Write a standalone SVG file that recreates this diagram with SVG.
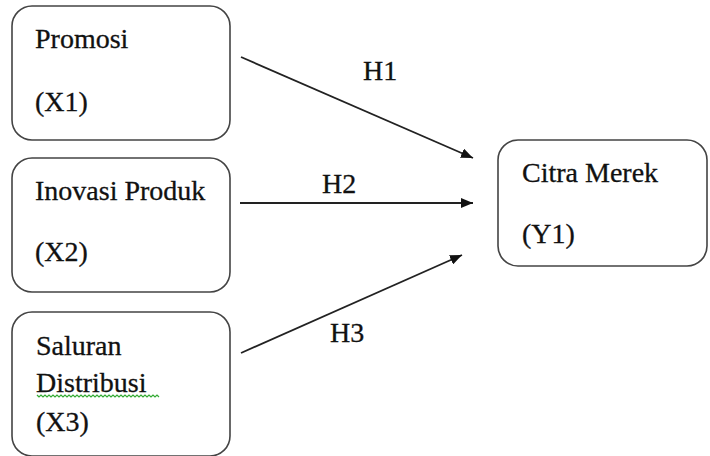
<svg xmlns="http://www.w3.org/2000/svg" width="710" height="456" viewBox="0 0 710 456">
<style>
.box{fill:#fff;stroke:#444;stroke-width:1.6}
.t{font-family:"Liberation Serif","Times New Roman",serif;font-size:28px;fill:#111;stroke:#111;stroke-width:0.3}
.c{stroke:#222;stroke-width:1.8;fill:none}
</style>
<defs>
<marker id="ah" viewBox="0 0 12 10" refX="12" refY="5" markerWidth="12" markerHeight="10" markerUnits="userSpaceOnUse" orient="auto">
<path d="M0,0 L12,5 L0,10 Z" fill="#111"/>
</marker>
</defs>
<rect width="710" height="456" fill="#fff"/>
<g id="x1">
<rect class="box" x="12" y="6" width="218" height="134" rx="20"/>
<text class="t" x="35" y="48">Promosi</text>
<text class="t" x="35" y="111">(X1)</text>
</g>
<g id="x2">
<rect class="box" x="12" y="158" width="218" height="134" rx="20"/>
<text class="t" x="35" y="200">Inovasi Produk</text>
<text class="t" x="35" y="261">(X2)</text>
</g>
<g id="x3">
<rect class="box" x="12" y="312" width="218" height="144" rx="20"/>
<text class="t" x="36" y="355">Saluran</text>
<text class="t" x="36" y="392">Distribusi</text>
<path d="M37,395 l2,2 l2,-2 l2,2 l2,-2 l2,2 l2,-2 l2,2 l2,-2 l2,2 l2,-2 l2,2 l2,-2 l2,2 l2,-2 l2,2 l2,-2 l2,2 l2,-2 l2,2 l2,-2 l2,2 l2,-2 l2,2 l2,-2 l2,2 l2,-2 l2,2 l2,-2 l2,2 l2,-2 l2,2 l2,-2 l2,2 l2,-2 l2,2 l2,-2 l2,2 l2,-2 l2,2 l2,-2 l2,2 l2,-2 l2,2 l2,-2 l2,2 l2,-2 l2,2 l2,-2 l2,2 l2,-2 l2,2 l2,-2 l2,2 l2,-2 l2,2 l2,-2 l2,2 l2,-2 l2,2 l2,-2 l2,2" fill="none" stroke="#3a3" stroke-width="1.2"/>
<text class="t" x="36" y="431">(X3)</text>
</g>
<g id="y1">
<rect class="box" x="498" y="140" width="209" height="126" rx="20"/>
<text class="t" x="522" y="182">Citra Merek</text>
<text class="t" x="522" y="243">(Y1)</text>
</g>
<g id="connectors">
<line class="c" x1="241" y1="57" x2="473" y2="158" marker-end="url(#ah)"/>
<line class="c" x1="240" y1="203" x2="473" y2="203" marker-end="url(#ah)"/>
<line class="c" x1="241" y1="353" x2="462" y2="255" marker-end="url(#ah)"/>
<text class="t" x="363" y="80">H1</text>
<text class="t" x="322" y="193">H2</text>
<text class="t" x="330" y="342">H3</text>
</g>
</svg>
